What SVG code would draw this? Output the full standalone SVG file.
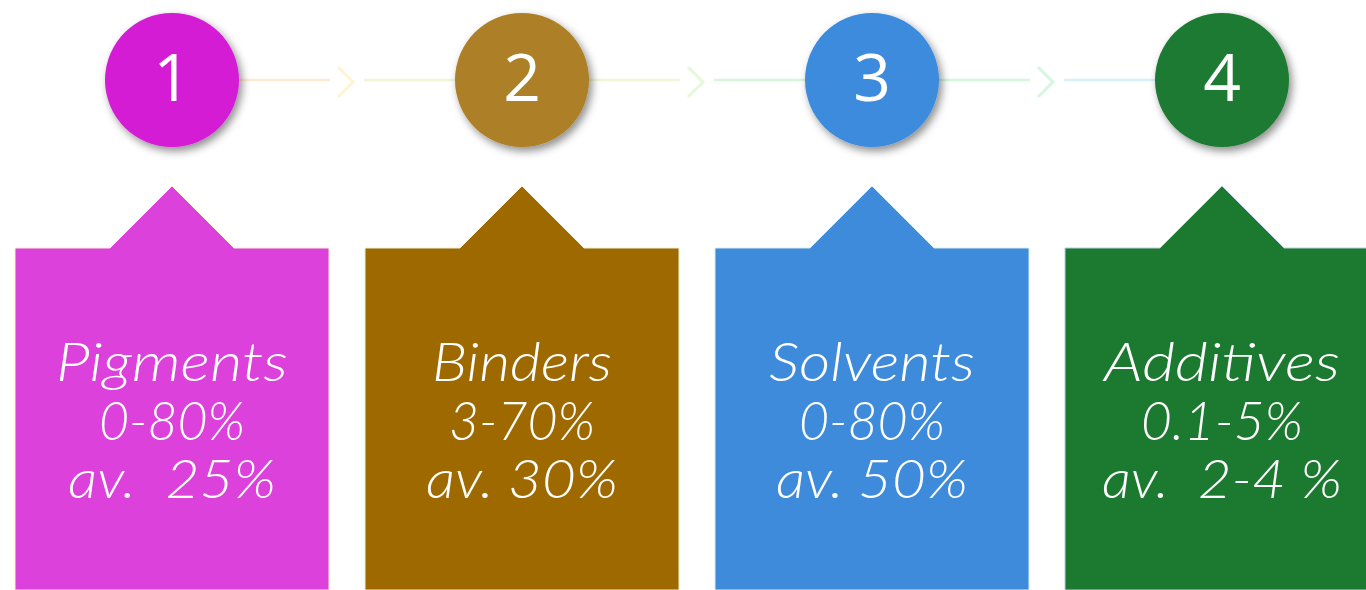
<svg xmlns="http://www.w3.org/2000/svg" width="1366" height="590" viewBox="0 0 1366 590">
  <defs>
    <filter id="shadow" x="-30%" y="-30%" width="170%" height="170%">
      <feDropShadow dx="3" dy="4" stdDeviation="4" flood-color="#000" flood-opacity="0.45"/>
    </filter>
    <style>
      .num { font-family: "Open Sans", "Noto Sans", "Liberation Sans", sans-serif; font-size: 66px; fill: #fff; text-anchor: middle; }
      .lbl { font-family: "Lato", "Liberation Sans", "DejaVu Sans", sans-serif; font-style: italic; font-weight: 300; font-size: 53px; fill: #fff; text-anchor: middle; }
      .link { fill: none; stroke-width: 2.5; }
      .chev { fill: none; stroke-width: 3; stroke-linejoin: miter; }
      .box { stroke-width: 1; }
    </style>
  </defs>
  <rect width="1366" height="590" fill="#fff"/>

  <!-- connectors between the numbered circles -->
  <g id="connectors">
    <line class="link" x1="239" y1="80" x2="330" y2="80" stroke="#FDEBD0"/>
    <polyline class="chev" points="338,67 353,82 338,97" stroke="#FFF4CF"/>
    <line class="link" x1="364" y1="80" x2="456" y2="80" stroke="#EEF8D6"/>

    <line class="link" x1="589" y1="80" x2="680" y2="80" stroke="#EEF8D6"/>
    <polyline class="chev" points="688,67 703,82 688,97" stroke="#E6F8D8"/>
    <line class="link" x1="714" y1="80" x2="806" y2="80" stroke="#D8F6DC"/>

    <line class="link" x1="939" y1="80" x2="1030" y2="80" stroke="#D6F6DE"/>
    <polyline class="chev" points="1038,67 1053,82 1038,97" stroke="#D6F6E2"/>
    <line class="link" x1="1064" y1="80" x2="1156" y2="80" stroke="#D6F0F4"/>
  </g>

  <!-- step 1: pigments -->
  <g id="step1">
    <circle cx="172" cy="80" r="67" fill="#D51BD5" filter="url(#shadow)"/>
    <text class="num" x="172" y="101">1</text>
    <path class="box" d="M15,248 H110 L172,186 L234,248 H329 V590 H15 Z" fill="#DC41DC" stroke="#F6EFC8"/>
    <text class="lbl" x="172" y="381" textLength="232" lengthAdjust="spacingAndGlyphs">Pigments</text>
    <text class="lbl" x="172" y="440" textLength="146" lengthAdjust="spacingAndGlyphs">0-80%</text>
    <text class="lbl" x="172" y="498" textLength="208" lengthAdjust="spacingAndGlyphs" xml:space="preserve">av.  25%</text>
  </g>

  <!-- step 2: binders -->
  <g id="step2">
    <circle cx="522" cy="80" r="67" fill="#AD7F26" filter="url(#shadow)"/>
    <text class="num" x="522" y="101">2</text>
    <path class="box" d="M365,248 H460 L522,186 L584,248 H679 V590 H365 Z" fill="#9E6A00" stroke="#E6F2D2"/>
    <text class="lbl" x="522" y="381" textLength="180" lengthAdjust="spacingAndGlyphs">Binders</text>
    <text class="lbl" x="522" y="440" textLength="146" lengthAdjust="spacingAndGlyphs">3-70%</text>
    <text class="lbl" x="522" y="498" textLength="192" lengthAdjust="spacingAndGlyphs">av. 30%</text>
  </g>

  <!-- step 3: solvents -->
  <g id="step3">
    <circle cx="872" cy="80" r="67" fill="#3E8BDC" filter="url(#shadow)"/>
    <text class="num" x="872" y="101">3</text>
    <path class="box" d="M715,248 H810 L872,186 L934,248 H1029 V590 H715 Z" fill="#3E8BDC" stroke="#D2F0EA"/>
    <text class="lbl" x="872" y="381" textLength="206" lengthAdjust="spacingAndGlyphs">Solvents</text>
    <text class="lbl" x="872" y="440" textLength="146" lengthAdjust="spacingAndGlyphs">0-80%</text>
    <text class="lbl" x="872" y="498" textLength="192" lengthAdjust="spacingAndGlyphs">av. 50%</text>
  </g>

  <!-- step 4: additives -->
  <g id="step4">
    <circle cx="1222" cy="80" r="67" fill="#1C7A30" filter="url(#shadow)"/>
    <text class="num" x="1222" y="101">4</text>
    <path class="box" d="M1065,248 H1160 L1222,186 L1284,248 H1379 V590 H1065 Z" fill="#1C7A30" stroke="#B8CCE0"/>
    <text class="lbl" x="1222" y="381" textLength="236" lengthAdjust="spacingAndGlyphs">Additives</text>
    <text class="lbl" x="1222" y="440" textLength="162" lengthAdjust="spacingAndGlyphs">0.1-5%</text>
    <text class="lbl" x="1222" y="498" textLength="240" lengthAdjust="spacingAndGlyphs" xml:space="preserve">av.  2-4 %</text>
  </g>
</svg>
